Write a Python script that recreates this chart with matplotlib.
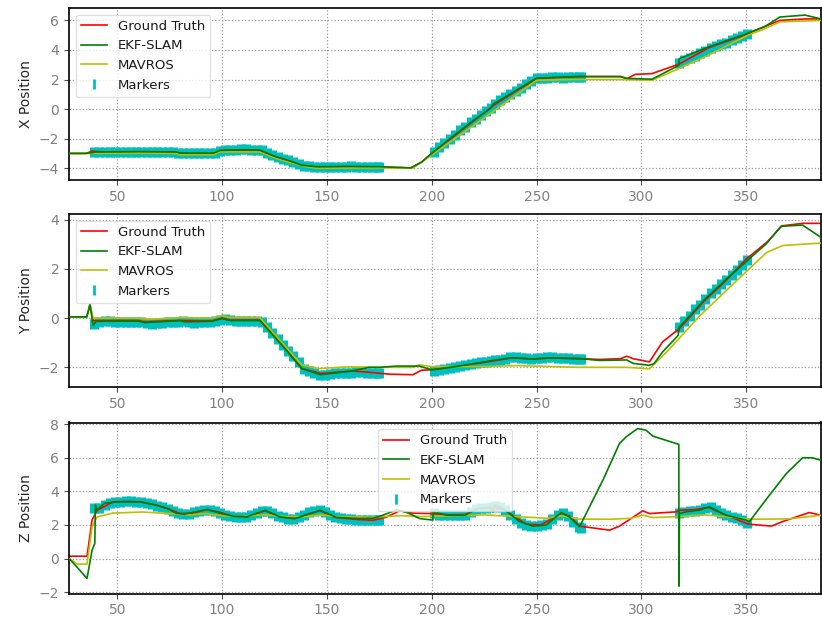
import matplotlib
matplotlib.use("Agg")
import matplotlib.pyplot as plt
from matplotlib.lines import Line2D

# ---------------- Ground truth ----------------
gt_x_t = [27, 35, 38, 42, 60, 78, 80, 96, 99, 110, 118, 125, 132, 138, 145, 160, 175, 190,
          195, 200, 210, 220, 230, 240, 250, 260, 270, 280, 290, 293, 297, 305, 318, 332,
          340, 350, 359, 366, 378, 385.6]
gt_x = [-3.0, -3.0, -2.85, -2.9, -2.9, -2.92, -3.0, -3.0, -2.8, -2.78, -2.8, -3.2, -3.5, -3.8,
        -3.92, -3.9, -3.92, -3.98, -3.6, -3.0, -1.9, -0.8, 0.3, 1.2, 2.05, 2.15, 2.2, 2.2, 2.2,
        2.05, 2.35, 2.4, 3.05, 4.15, 4.55, 5.05, 5.6, 6.0, 6.1, 6.1]

gt_y_t = [27, 35.5, 37, 38.5, 40, 60, 63, 80, 95, 100, 104, 118, 128, 138, 147, 155, 162, 170,
          180, 191, 195, 200, 213, 225, 238, 248, 257, 271, 280, 290, 293, 296, 303.8, 310, 318,
          330, 340, 350, 360, 367, 377, 385.6]
gt_y = [0.05, 0.05, 0.55, -0.1, -0.1, -0.1, -0.15, -0.1, -0.12, 0.0, -0.08, -0.08, -1.0, -2.05,
        -2.25, -2.2, -2.15, -2.2, -2.28, -2.3, -2.12, -2.1, -1.95, -1.8, -1.62, -1.66, -1.62,
        -1.65, -1.68, -1.65, -1.55, -1.65, -1.78, -0.97, -0.43, 0.7, 1.5, 2.4, 3.1, 3.75, 3.85,
        3.85]

gt_z_t = [27, 35.6, 38, 40.4, 48, 55, 61, 68, 74, 80, 86, 92.7, 99, 105, 112, 120.5, 127, 134,
          146.7, 154, 165, 172, 178, 184.8, 191, 200, 208, 216, 222, 228, 234, 245, 252, 262,
          266, 270.5, 284.8, 289.5, 300.6, 303.8, 316.5, 318, 325, 332, 340, 351, 362, 367, 380,
          385.6]
gt_z = [0.14, 0.14, 2.29, 2.88, 3.38, 3.4, 3.38, 3.2, 2.98, 2.68, 2.7, 2.92, 2.75, 2.52, 2.48,
        2.85, 2.5, 2.38, 2.85, 2.45, 2.32, 2.28, 2.45, 2.85, 2.7, 2.68, 2.6, 2.62, 2.98, 3.05,
        2.95, 2.05, 2.0, 2.7, 2.5, 1.93, 1.69, 1.93, 2.84, 2.68, 2.78, 2.88, 2.9, 3.05, 2.6,
        2.05, 1.93, 2.19, 2.74, 2.58]

# ---------------- EKF-SLAM ----------------
ekf_x_t = [27, 35, 38, 40, 60, 78, 80, 96, 99, 110, 118, 125, 132, 138, 145, 160, 175, 190,
           195, 200, 210, 220, 228, 229, 240, 250, 260, 270, 280, 290, 293, 305, 317.8, 318,
           332, 340, 350, 359, 366, 378, 385.6]
ekf_x = [-3.0, -3.0, -2.95, -2.9, -2.88, -2.9, -2.98, -2.98, -2.8, -2.75, -2.78, -3.2, -3.5,
         -3.8, -3.9, -3.88, -3.9, -3.98, -3.6, -3.0, -1.85, -0.75, 0.05, 0.3, 1.25, 2.1, 2.15,
         2.2, 2.2, 2.2, 2.08, 2.02, 2.96, 3.41, 4.2, 4.6, 5.1, 5.6, 6.23, 6.36, 6.1]

ekf_y_t = [27, 35.5, 37, 38.5, 40, 60, 63, 70, 80, 82, 95, 100, 104, 118, 128, 138, 147, 155,
           162, 170, 175, 183, 194, 200, 213, 225, 229, 238, 248, 257, 271, 280, 293, 296,
           303.6, 306, 310, 317.5, 318, 330, 340, 350.6, 359.4, 366.5, 376.8, 385.6]
ekf_y = [0.05, 0.05, 0.55, -0.3, -0.13, -0.12, -0.18, -0.15, -0.1, -0.15, -0.13, -0.02, -0.1,
         -0.1, -1.05, -2.05, -2.3, -2.22, -2.15, -2.0, -2.0, -1.95, -1.95, -2.1, -1.95, -1.78,
         -1.72, -1.61, -1.66, -1.62, -1.65, -1.72, -1.7, -1.84, -1.92, -1.85, -1.38, -0.7,
         -0.37, 0.75, 1.55, 2.35, 3.01, 3.73, 3.78, 3.28]

ekf_z_t = [27.5, 35.6, 38, 39.3, 39.6, 40.4, 44, 51, 61, 68, 74, 78, 82, 88, 92.7, 99, 105.4,
           111.7, 120.5, 127.6, 134.8, 146.7, 154.6, 165.7, 172, 176, 183.2, 188, 194.3, 200.5,
           200.7, 207, 216, 221.3, 227.6, 229.2, 230, 234, 241.9, 248.3, 254.6, 261.7, 265.6,
           270.5, 271.3, 281.6, 289.5, 292.7, 298.2, 302.2, 305.4, 316.5, 317.8, 317.9, 318.1,
           321.2, 327.6, 332.4, 340.3, 349.8, 351.4, 361, 369, 376.8, 381.5, 385.6]
ekf_z = [-0.05, -1.18, 0.5, 0.9, 3.18, 2.9, 3.3, 3.38, 3.38, 3.2, 2.98, 2.7, 2.64, 2.8, 2.92,
         2.7, 2.52, 2.48, 2.88, 2.48, 2.38, 2.88, 2.45, 2.38, 2.4, 2.55, 2.9, 2.75, 2.38, 2.29,
         2.78, 2.58, 2.58, 2.98, 3.04, 2.78, 3.18, 2.98, 2.2, 1.93, 2.0, 2.74, 2.48, 1.9, 2.1,
         4.67, 6.85, 7.25, 7.74, 7.64, 7.29, 6.85, 6.8, -1.64, 2.68, 2.78, 2.88, 3.08, 2.58,
         2.29, 2.19, 3.77, 5.05, 6.0, 6.0, 5.85]

# ---------------- MAVROS ----------------
mav_x_t = [27, 35, 38, 60, 78, 80, 96, 99, 118, 125, 132, 140, 145, 175, 191, 200, 225, 250,
           270, 290, 305, 318, 332, 350, 359, 366, 385.6]
mav_x = [-3.0, -3.0, -3.0, -2.98, -3.0, -3.08, -3.08, -2.9, -2.9, -3.3, -3.6, -3.9, -4.0,
         -3.98, -4.0, -3.1, -0.6, 1.95, 2.0, 2.0, 1.95, 2.75, 3.65, 4.95, 5.45, 5.9, 6.0]

mav_y_t = [27, 35.5, 37, 38.5, 60, 65, 80, 95, 100, 104, 118, 128, 138, 146, 160, 175, 191,
           194, 200, 225, 240, 270, 293, 303.8, 312, 328, 343.8, 359.7, 367.4, 385.6]
mav_y = [0.05, 0.05, 0.55, 0.0, 0.0, -0.05, 0.02, 0.0, 0.1, 0.02, 0.02, -0.95, -1.9, -2.05,
         -1.98, -2.0, -2.0, -1.9, -1.97, -1.97, -1.93, -2.0, -2.0, -2.06, -1.38, 0.11, 1.39,
         2.67, 2.95, 3.05]

mav_z_t = [27, 31, 35.6, 38, 40.4, 48, 62, 75, 85, 92, 100, 110, 120, 130, 140, 147, 155, 170,
           185, 195, 210, 225, 240, 255, 262, 270, 285, 295, 300.6, 305.4, 318, 330, 340, 351,
           370, 385.6]
mav_z = [0.0, -0.33, -0.33, 1.89, 2.48, 2.71, 2.77, 2.68, 2.6, 2.68, 2.55, 2.5, 2.62, 2.5, 2.5,
         2.6, 2.5, 2.45, 2.55, 2.5, 2.55, 2.6, 2.5, 2.4, 2.55, 2.35, 2.34, 2.4, 2.58, 2.44, 2.5,
         2.6, 2.5, 2.34, 2.36, 2.58]

# ---------------- Marker observations ----------------
mk_t = [39, 41.5, 44, 46.5, 49, 51.5, 54, 56.5, 59, 61.5, 64, 66.5, 69, 71.5, 74, 76.5, 79,
        81.5, 84, 86.5, 89, 91.5, 94, 96.5, 99, 101.5, 104, 106.5, 109, 111.5, 114, 116.5, 119,
        121.5, 124, 126.5, 129, 131.5, 134, 136.5, 139, 141.5, 144, 146.5, 149, 151.5, 154,
        156.5, 159, 161.5, 164, 166.5, 169, 171.5, 174, 175,
        201, 203.5, 206, 208.5, 211, 213.5, 216, 218.5, 221, 223.5, 226, 228,
        230, 232.5, 235, 237.5, 240, 242.5, 245, 247.5, 250, 252.5, 255, 257.5, 260, 262.5,
        265, 267.5, 270, 271,
        318, 320.5, 323, 325.5, 328, 330.5, 333, 335.5, 338, 340.5, 343, 345.5, 348, 350.5]
mk_x = [-2.9, -2.9, -2.9, -2.88, -2.88, -2.88, -2.9, -2.88, -2.9, -2.9, -2.88, -2.9, -2.9, -2.9,
        -2.9, -2.9, -2.95, -3.0, -2.98, -2.98, -3.0, -2.98, -2.98, -2.98, -2.85, -2.78, -2.76,
        -2.75, -2.72, -2.72, -2.76, -2.76, -2.8, -2.95, -3.1, -3.25, -3.38, -3.48, -3.6, -3.72,
        -3.85, -3.88, -3.92, -3.95, -3.92, -3.9, -3.9, -3.9, -3.9, -3.88, -3.9, -3.9, -3.9, -3.9,
        -3.9, -3.9,
        -2.9, -2.6, -2.3, -2.0, -1.75, -1.45, -1.2, -0.9, -0.65, -0.4, -0.15, 0.05,
        0.35, 0.6, 0.85, 1.05, 1.25, 1.45, 1.7, 1.9, 2.1, 2.12, 2.12, 2.18, 2.15, 2.12, 2.15,
        2.18, 2.15, 2.15,
        3.1, 3.3, 3.45, 3.62, 3.8, 3.95, 4.12, 4.25, 4.38, 4.5, 4.65, 4.78, 4.92, 5.05]
mk_y = [-0.25, -0.15, -0.13, -0.13, -0.14, -0.14, -0.14, -0.14, -0.15, -0.17, -0.2, -0.22, -0.2,
        -0.18, -0.17, -0.17, -0.15, -0.13, -0.17, -0.18, -0.17, -0.17, -0.17, -0.12, -0.06,
        -0.03, -0.08, -0.12, -0.12, -0.12, -0.12, -0.12, -0.15, -0.38, -0.62, -0.85, -1.08,
        -1.32, -1.55, -1.8, -2.05, -2.15, -2.25, -2.32, -2.3, -2.28, -2.25, -2.25, -2.22, -2.22,
        -2.2, -2.2, -2.22, -2.22, -2.22, -2.22,
        -2.15, -2.1, -2.05, -2.02, -1.98, -1.95, -1.9, -1.87, -1.83, -1.8, -1.78, -1.76,
        -1.72, -1.7, -1.66, -1.6, -1.58, -1.62, -1.64, -1.66, -1.64, -1.62, -1.6, -1.6, -1.62,
        -1.63, -1.64, -1.65, -1.65, -1.65,
        -0.35, -0.1, 0.1, 0.35, 0.55, 0.78, 1.0, 1.2, 1.38, 1.55, 1.75, 1.95, 2.15, 2.35]
mk_z = [3.0, 3.0, 3.2, 3.3, 3.35, 3.38, 3.4, 3.4, 3.38, 3.35, 3.3, 3.22, 3.15, 3.05, 2.95, 2.82,
        2.7, 2.65, 2.68, 2.75, 2.85, 2.92, 2.9, 2.82, 2.7, 2.6, 2.52, 2.48, 2.46, 2.48, 2.58,
        2.72, 2.85, 2.85, 2.7, 2.55, 2.45, 2.38, 2.36, 2.45, 2.6, 2.75, 2.85, 2.88, 2.75, 2.58,
        2.45, 2.4, 2.38, 2.36, 2.32, 2.3, 2.3, 2.3, 2.3, 2.3,
        2.7, 2.62, 2.6, 2.58, 2.58, 2.58, 2.62, 2.8, 2.95, 3.0, 3.02, 3.04,
        3.15, 3.05, 2.9, 2.6, 2.35, 2.1, 2.0, 1.95, 1.95, 1.98, 2.05, 2.35, 2.62, 2.72, 2.55,
        2.2, 1.9, 1.8,
        2.72, 2.78, 2.82, 2.85, 2.9, 3.02, 3.05, 2.9, 2.72, 2.6, 2.5, 2.42, 2.3, 2.1]

y_labels = ["X Position", "Y Position", "Z Position"]
legend_labels = ["Ground Truth", "EKF-SLAM", "MAVROS", "Markers"]
x_ticks = [50, 100, 150, 200, 250, 300, 350]

series = [
    (gt_x_t, gt_x, ekf_x_t, ekf_x, mav_x_t, mav_x, mk_x),
    (gt_y_t, gt_y, ekf_y_t, ekf_y, mav_y_t, mav_y, mk_y),
    (gt_z_t, gt_z, ekf_z_t, ekf_z, mav_z_t, mav_z, mk_z),
]
y_limits = [(-4.8, 6.84), (-2.8, 4.23), (-2.08, 8.1)]
y_ticks = [[-4, -2, 0, 2, 4, 6], [-2, 0, 2, 4], [-2, 0, 2, 4, 6, 8]]
legend_locs = ["upper left", "upper left", "upper center"]
# axes boxes in figure fractions: left, bottom, width, height
boxes = [
    (69 / 822, 1 - 180 / 624, 752 / 822, 172 / 624),
    (69 / 822, 1 - 387 / 624, 752 / 822, 173 / 624),
    (69 / 822, 1 - 593.5 / 624, 752 / 822, 171 / 624),
]

plt.rcParams["font.family"] = ["DejaVu Sans"]
fig = plt.figure(figsize=(8.22, 6.24), dpi=100)

for i, (gt_t, gt_v, ek_t, ek_v, mv_t, mv_v, mk_v) in enumerate(series):
    ax = fig.add_axes(boxes[i])
    ax.plot(mk_t, mk_v, linestyle="none", marker="|", color="c",
            markersize=7.5, markeredgewidth=6.5, zorder=1)
    ax.plot(gt_t, gt_v, color="r", lw=1.2, zorder=2)
    ax.plot(ek_t, ek_v, color="g", lw=1.2, zorder=4)
    ax.plot(mv_t, mv_v, color="y", lw=1.2, zorder=3)

    ax.set_xlim(27, 385.6)
    ax.set_ylim(*y_limits[i])
    ax.set_xticks(x_ticks)
    ax.set_yticks(y_ticks[i])
    ax.grid(True, linestyle=":", color="0.6", linewidth=0.9)
    ax.set_axisbelow(True)
    for sp in ax.spines.values():
        sp.set_color("black")
        sp.set_linewidth(1.2)
    ax.tick_params(axis="both", direction="out", length=3.5, width=0.8,
                   colors="0.3", labelcolor="0.5", labelsize=10)
    ax.set_ylabel(y_labels[i], fontsize=10, color="0.15", labelpad=4)

    handles = [
        Line2D([], [], color="r", lw=1.2),
        Line2D([], [], color="g", lw=1.2),
        Line2D([], [], color="y", lw=1.2),
        Line2D([], [], linestyle="none", marker="|", color="c",
               markersize=7.5, markeredgewidth=2.0),
    ]
    leg = ax.legend(handles, legend_labels, loc=legend_locs[i], fontsize=9.5,
                    frameon=True, framealpha=0.8, edgecolor="0.85", fancybox=True)
    for txt in leg.get_texts():
        txt.set_color("0.1")

fig.savefig("out.png", dpi=100)
